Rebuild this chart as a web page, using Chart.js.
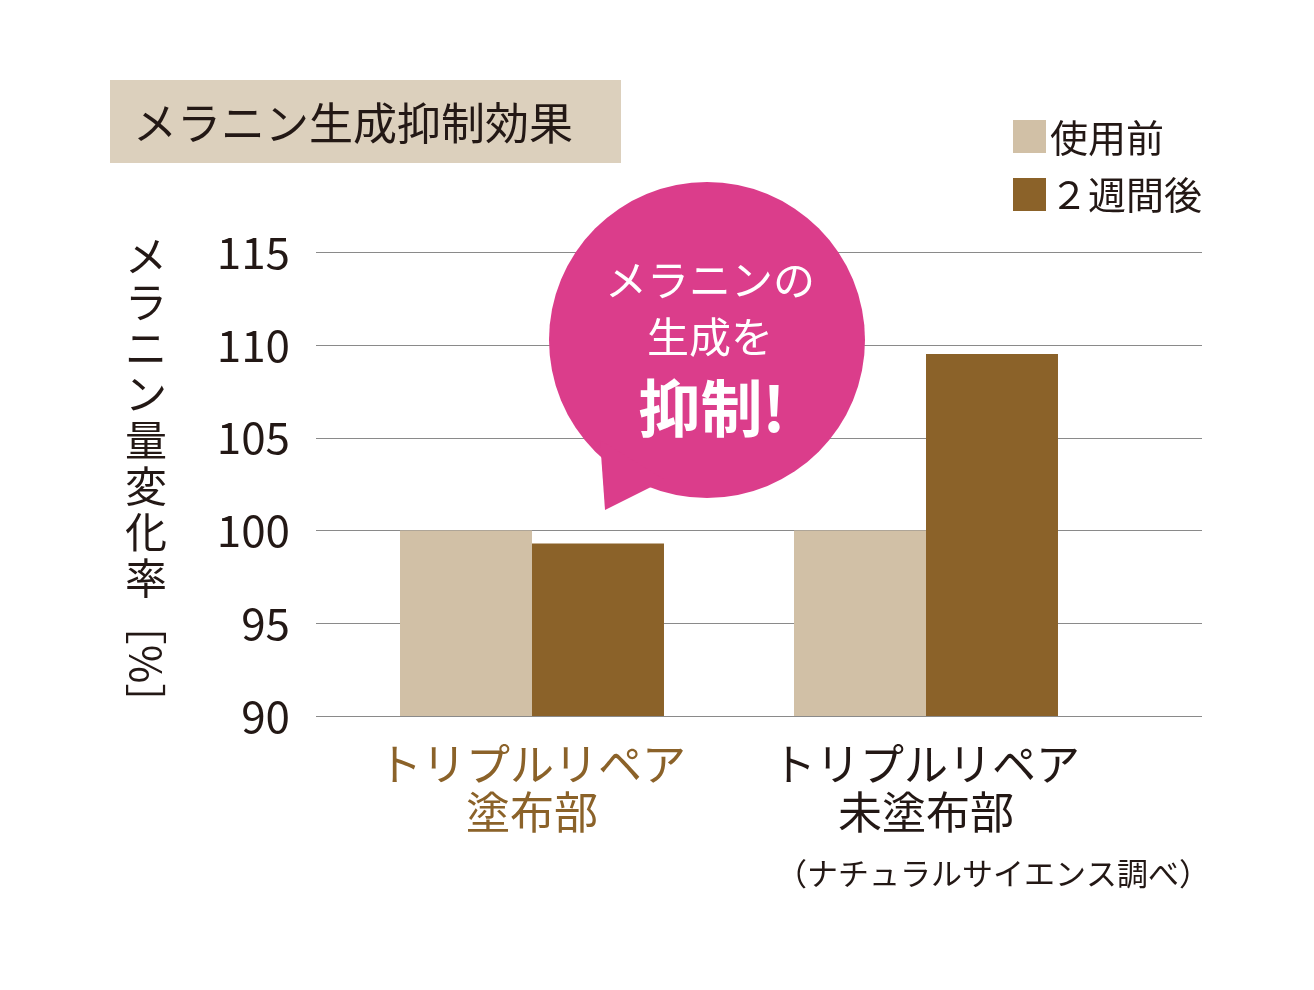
<!DOCTYPE html>
<html><head><meta charset="utf-8">
<script src="https://cdn.jsdelivr.net/npm/chart.js@4"></script>
<style>body{margin:0;background:#fff}#wrap{width:1314px;height:990px}</style>
</head><body><div id="wrap"><canvas id="c" width="1314" height="990"></canvas></div>
<script>
const categories = [['トリプルリペア', '塗布部'], ['トリプルリペア', '未塗布部']];
const beforeValues = [100, 100];
const afterValues = [99.3, 109.5];
const seriesNames = ['使用前', '２週間後'];
const yTicks = [90, 95, 100, 105, 110, 115];

const FONT = '"Noto Sans CJK JP", "Noto Sans", sans-serif';
const INK = '#231815';
const LIGHT = '#d1c0a6';
const DARK = '#8b6229';

// horizontal grid lines run past the plot area on the right
const grid = {
    id: 'grid',
    beforeDatasetsDraw(chart) {
        const ctx = chart.ctx, y = chart.scales.y;
        ctx.save();
        ctx.strokeStyle = '#8a8a8a';
        ctx.lineWidth = 1;
        yTicks.forEach(v => {
            const py = Math.round(y.getPixelForValue(v)) + 0.5;
            ctx.beginPath();
            ctx.moveTo(316, py);
            ctx.lineTo(1202, py);
            ctx.stroke();
        });
        ctx.restore();
    }
};

const extras = {
    id: 'extras',
    afterDatasetsDraw(chart) {
        const ctx = chart.ctx;
        ctx.save();
        // title box
        ctx.fillStyle = '#dcd0bd';
        ctx.fillRect(110, 80, 511, 83);
        ctx.fillStyle = INK;
        ctx.font = '44px ' + FONT;
        ctx.textBaseline = 'middle';
        ctx.fillText('メラニン生成抑制効果', 133, 123);
        // legend
        ctx.font = '38px ' + FONT;
        ctx.fillStyle = LIGHT;
        ctx.fillRect(1013, 120, 33, 33);
        ctx.fillStyle = DARK;
        ctx.fillRect(1013, 178, 33, 33);
        ctx.fillStyle = INK;
        ctx.fillText(seriesNames[0], 1050, 138);
        ctx.fillText(seriesNames[1], 1050, 195);
        // y title, stacked vertically
        ctx.font = '42px ' + FONT;
        ctx.textAlign = 'center';
        const yChars = 'メラニン量変化率'.split('');
        yChars.forEach((ch, i) => ctx.fillText(ch, 146, 256 + i * 46));
        ctx.save();
        ctx.translate(146, 664);
        ctx.rotate(Math.PI / 2);
        ctx.fillText('［%］', 0, 0);
        ctx.restore();
        // note
        ctx.font = '31px ' + FONT;
        ctx.textAlign = 'right';
        ctx.fillText('（ナチュラルサイエンス調べ）', 1210, 873);
        // bubble
        ctx.fillStyle = '#db3d8b';
        ctx.beginPath();
        ctx.arc(707, 340, 158, 0, Math.PI * 2);
        ctx.fill();
        ctx.beginPath();
        ctx.moveTo(600, 440);
        ctx.lineTo(605, 510);
        ctx.lineTo(665, 480);
        ctx.closePath();
        ctx.fill();
        ctx.fillStyle = '#fff';
        ctx.textAlign = 'center';
        ctx.font = '42px ' + FONT;
        ctx.fillText('メラニンの', 710, 280);
        ctx.fillText('生成を', 710, 337);
        ctx.font = 'bold 62px ' + FONT;
        ctx.fillText('抑制!', 712, 408);
        ctx.restore();
    }
};

new Chart(document.getElementById('c'), {
    type: 'bar',
    data: {
        labels: categories,
        datasets: [
            { label: seriesNames[0], data: beforeValues, backgroundColor: LIGHT },
            { label: seriesNames[1], data: afterValues, backgroundColor: DARK }
        ]
    },
    options: {
        responsive: false,
        animation: false,
        layout: { padding: { top: 252, right: 191, bottom: 0, left: 0 } },
        datasets: { bar: { categoryPercentage: 0.67, barPercentage: 1 } },
        plugins: { legend: { display: false }, tooltip: { enabled: false } },
        scales: {
            x: {
                grid: { display: false },
                border: { display: false },
                afterFit(s) { s.height = 274; },
                ticks: {
                    padding: 16,
                    font: { family: FONT, size: 44, lineHeight: 1.1 },
                    color: (c) => c.index === 0 ? DARK : INK
                }
            },
            y: {
                min: 90,
                max: 115,
                afterFit(s) { s.width = 335; },
                afterBuildTicks(s) { s.ticks = yTicks.map(v => ({ value: v })); },
                grid: { display: false },
                border: { display: false },
                ticks: {
                    padding: 37,
                    font: { family: FONT, size: 44 },
                    color: INK
                }
            }
        }
    },
    plugins: [grid, extras]
});
</script></body></html>
